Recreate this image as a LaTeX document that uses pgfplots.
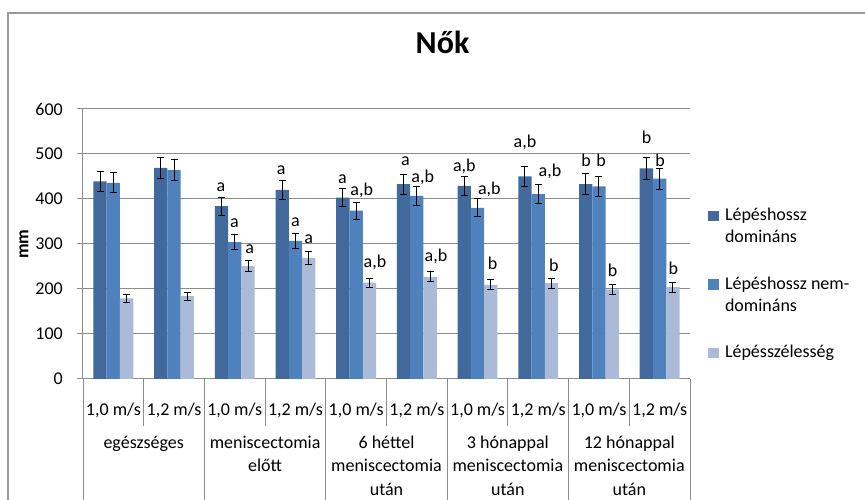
\documentclass[border=0pt]{standalone}
\usepackage{pgfplots}
\usepackage{pgfplotstable}
\pgfplotsset{compat=1.18}
\usepackage{fontspec}
\setmainfont{Carlito}
\definecolor{cDark}{HTML}{41699B}
\definecolor{cMid}{HTML}{4F81BD}
\definecolor{cLight}{HTML}{AABAD7}
\definecolor{cGrid}{HTML}{8C8C8C}
\definecolor{cFrame}{HTML}{9A9A9A}

\pgfplotstableread{
x  d    de   m    me   l    le
0  439  22   436  22   179  9
1  469  23   464  23   184  9
2  384  20   304  16   251  13
3  420  22   307  16   269  15
4  403  20   374  19   214  10
5  433  22   407  21   227  11
6  429  21   380  20   209  11
7  450  23   411  21   213  11
8  433  23   428  23   199  11
9  468  24   445  23   204  11
}\data

\newcommand{\lbl}{\fontsize{18}{22}\selectfont}
\newcommand{\two}[2]{\vtop{\hbox{#1}\hbox{#2}}}
\tikzset{lab/.style={font=\lbl, inner sep=0pt}}
\pgfplotsset{
  sqlegend/.style={legend image code/.code={\fill[##1] (0pt,-0.6pt) rectangle (10.7pt,10.1pt);}},
  ebars/.style={error bars/.cd, y dir=both, y explicit,
    error bar style={black, line width=1pt},
    error mark options={black, line width=1pt, mark size=3.5pt, rotate=90}},
}

\begin{document}
\begin{tikzpicture}[x=1pt,y=1pt]
\useasboundingbox (0,0) rectangle (865,500);
\draw[cFrame, line width=1.2pt] (8,0) -- (8,487) -- (865,487);
\begin{axis}[
  at={(83pt,121pt)}, anchor=south west,
  scale only axis, width=607pt, height=270pt,
  xmin=-0.5, xmax=9.5, ymin=0, ymax=600,
  ytick={0,100,...,600},
  xtick={0,...,9},
  xticklabels={{1,0 m/s},{1,2 m/s},{1,0 m/s},{1,2 m/s},{1,0 m/s},{1,2 m/s},{1,0 m/s},{1,2 m/s},{1,0 m/s},{1,2 m/s}},
  axis x line*=bottom, axis y line*=left,
  axis line style={cGrid, line width=1pt, -},
  ymajorgrids, grid style={cGrid, line width=1pt},
  tick align=outside, major tick length=6pt,
  major tick style={cGrid, line width=1pt},
  major x tick style={draw=none},
  tick label style={font=\lbl},
  /pgf/number format/assume math mode=true,
  xticklabel style={anchor=base, inner sep=0pt, yshift=-31pt},
  yticklabel style={anchor=east, inner sep=0pt, xshift=-14pt},
  ylabel={mm},
  ylabel style={at={(axis description cs:-0.0972,0.5)}, anchor=center, font=\bfseries\lbl, inner sep=0pt},
  title={Nők},
  title style={at={(axis description cs:0.5923,1.1841)}, anchor=base, font=\bfseries\fontsize{32}{38}\selectfont, inner sep=0pt},
  legend style={at={(axis description cs:1.0297,0.638)}, anchor=north west, draw=none, fill=none,
    inner sep=0pt, outer sep=0pt, font=\lbl, row sep=53.9pt, column sep=6.3pt,
    cells={anchor=base west}, nodes={inner sep=0pt, text height=14pt, text depth=0pt}},
]
\addplot[ybar, bar width=0.219, bar shift=0, fill=cDark, draw=none, sqlegend, ebars]
  table[x expr=\thisrow{x}-0.219, y=d, y error=de] {\data};
\addplot[ybar, bar width=0.219, bar shift=0, fill=cMid, draw=none, sqlegend, ebars]
  table[x=x, y=m, y error=me] {\data};
\addplot[ybar, bar width=0.219, bar shift=0, fill=cLight, draw=none, sqlegend, ebars]
  table[x expr=\thisrow{x}+0.219, y=l, y error=le] {\data};
\legend{{\two{Lépéshossz}{domináns}},{\two{Lépéshossz nem-}{domináns}},{Lépésszélesség}}
\node[lab] at (axis cs:1.773,427) {a};
\node[lab] at (axis cs:1.993,346) {a};
\node[lab] at (axis cs:2.246,289) {a};
\node[lab] at (axis cs:2.767,463) {a};
\node[lab] at (axis cs:2.998,349) {a};
\node[lab] at (axis cs:3.218,311) {a};
\node[lab] at (axis cs:3.772,444) {a};
\node[lab] at (axis cs:4.091,420) {a,b};
\node[lab] at (axis cs:4.310,259) {a,b};
\node[lab] at (axis cs:4.810,483) {a};
\node[lab] at (axis cs:5.096,449) {a,b};
\node[lab] at (axis cs:5.315,272) {a,b};
\node[lab] at (axis cs:5.782,472) {a,b};
\node[lab] at (axis cs:6.194,422) {a,b};
\node[lab] at (axis cs:6.250,257) {b};
\node[lab] at (axis cs:6.782,525) {a,b};
\node[lab] at (axis cs:7.194,462) {a,b};
\node[lab] at (axis cs:7.259,253) {b};
\node[lab] at (axis cs:7.787,485) {b};
\node[lab] at (axis cs:8.034,485) {b};
\node[lab] at (axis cs:8.226,242) {b};
\node[lab] at (axis cs:8.787,536) {b};
\node[lab] at (axis cs:9.006,487) {b};
\node[lab] at (axis cs:9.225,246) {b};
\end{axis}
\foreach \k in {1,3,5,7,9} {
  \draw[cGrid, line width=1pt] ({83+60.7*\k},121) -- ({83+60.7*\k},74);
}
\foreach \k in {0,2,4,6,8,10} {
  \draw[cGrid, line width=1pt] ({83+60.7*\k},121) -- ({83+60.7*\k},0);
}
\begin{scope}[every node/.style={font=\lbl, anchor=base, inner sep=0pt}]
\node at (143.7,51.7) {egészséges};
\node at (265.1,51.7) {meniscectomia};
\node at (265.1,28.3) {előtt};
\node at (386.5,51.7) {6 héttel};
\node at (386.5,28.3) {meniscectomia};
\node at (386.5,4.9) {után};
\node at (507.9,51.7) {3 hónappal};
\node at (507.9,28.3) {meniscectomia};
\node at (507.9,4.9) {után};
\node at (629.3,51.7) {12 hónappal};
\node at (629.3,28.3) {meniscectomia};
\node at (629.3,4.9) {után};
\end{scope}
\end{tikzpicture}
\end{document}
